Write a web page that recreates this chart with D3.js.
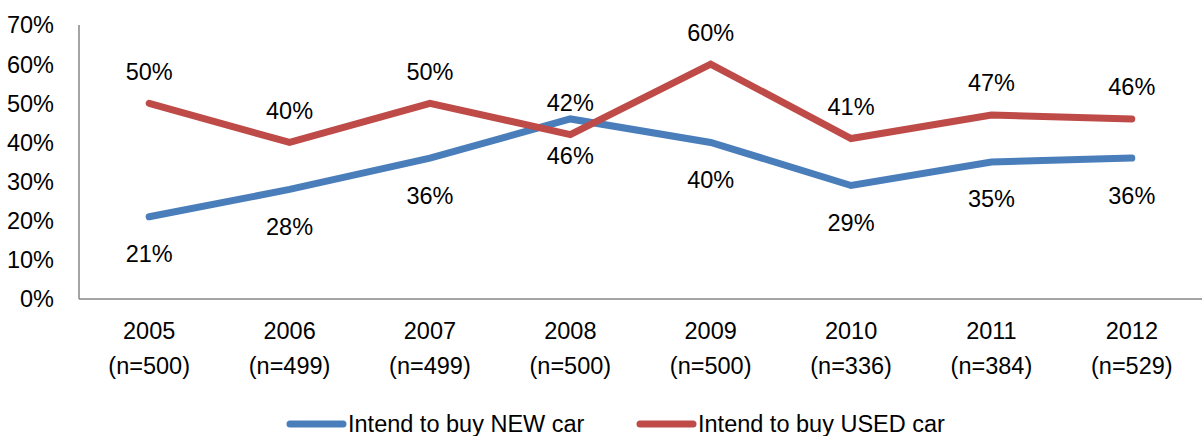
<!DOCTYPE html>
<html>
<head>
<meta charset="utf-8">
<script src="https://cdn.jsdelivr.net/npm/d3@7"></script>
<style>
  body { margin: 0; background: #fff; }
  svg { display: block; font-family: "Liberation Sans", Arial, sans-serif; }
</style>
</head>
<body>
<svg width="1202" height="436"></svg>
<script>
// data
var years = ["2005", "2006", "2007", "2008", "2009", "2010", "2011", "2012"];
var sampleSizes = ["(n=500)", "(n=499)", "(n=499)", "(n=500)", "(n=500)", "(n=336)", "(n=384)", "(n=529)"];
var newCar = [21, 28, 36, 46, 40, 29, 35, 36];
var usedCar = [50, 40, 50, 42, 60, 41, 47, 46];
var yTicks = [0, 10, 20, 30, 40, 50, 60, 70];

var series = [
  {name: "Intend to buy NEW car", values: newCar, color: "#4a7ebb", labelDy: 37},
  {name: "Intend to buy USED car", values: usedCar, color: "#be4b48", labelDy: -32}
];

var svg = d3.select("svg");
var fontSize = 23.5;

var x = d3.scaleBand()
  .domain(years)
  .range([79, 1202]);

var y = d3.scaleLinear()
  .domain([0, 70])
  .range([299, 25]);

// axes lines
svg.append("line")
  .attr("x1", 79).attr("x2", 79)
  .attr("y1", y(70)).attr("y2", y(0))
  .attr("stroke", "#868686").attr("stroke-width", 1.5);
svg.append("line")
  .attr("x1", 79).attr("x2", 1202)
  .attr("y1", y(0)).attr("y2", y(0))
  .attr("stroke", "#868686").attr("stroke-width", 1.5);

// y tick labels
svg.selectAll(".ytick")
  .data(yTicks)
  .enter()
  .append("text")
  .attr("class", "ytick")
  .attr("x", 54)
  .attr("y", d => y(d))
  .attr("dy", "0.36em")
  .attr("text-anchor", "end")
  .attr("font-size", fontSize)
  .attr("fill", "#000")
  .text(d => d + "%");

// x labels (two lines)
var xl = svg.selectAll(".xtick")
  .data(years)
  .enter()
  .append("text")
  .attr("class", "xtick")
  .attr("text-anchor", "middle")
  .attr("font-size", fontSize)
  .attr("fill", "#000");
xl.append("tspan")
  .attr("x", d => x(d) + x.bandwidth() / 2)
  .attr("y", 339)
  .text(d => d);
xl.append("tspan")
  .attr("x", d => x(d) + x.bandwidth() / 2)
  .attr("y", 374)
  .text((d, i) => sampleSizes[i]);

// lines
var line = d3.line()
  .x((d, i) => x(years[i]) + x.bandwidth() / 2)
  .y(d => y(d));

series.forEach(s => {
  svg.append("path")
    .datum(s.values)
    .attr("d", line)
    .attr("fill", "none")
    .attr("stroke", s.color)
    .attr("stroke-width", 7)
    .attr("stroke-linecap", "round")
    .attr("stroke-linejoin", "miter");
});

// data labels
series.forEach(s => {
  svg.selectAll(null)
    .data(s.values)
    .enter()
    .append("text")
    .attr("x", (d, i) => x(years[i]) + x.bandwidth() / 2)
    .attr("y", d => y(d) + s.labelDy)
    .attr("dy", "0.36em")
    .attr("text-anchor", "middle")
    .attr("font-size", fontSize)
    .attr("fill", "#000")
    .text(d => d + "%");
});

// legend
var legendX = [287, 637];
var legend = svg.selectAll(".legend")
  .data(series)
  .enter()
  .append("g")
  .attr("class", "legend")
  .attr("transform", (d, i) => `translate(${legendX[i]},424)`);
legend.append("line")
  .attr("x1", 3).attr("x2", 56)
  .attr("y1", 0).attr("y2", 0)
  .attr("stroke", d => d.color)
  .attr("stroke-width", 7)
  .attr("stroke-linecap", "round");
legend.append("text")
  .attr("x", 61)
  .attr("y", 0)
  .attr("dy", "0.36em")
  .attr("font-size", fontSize)
  .attr("fill", "#000")
  .text(d => d.name);
</script>
</body>
</html>
